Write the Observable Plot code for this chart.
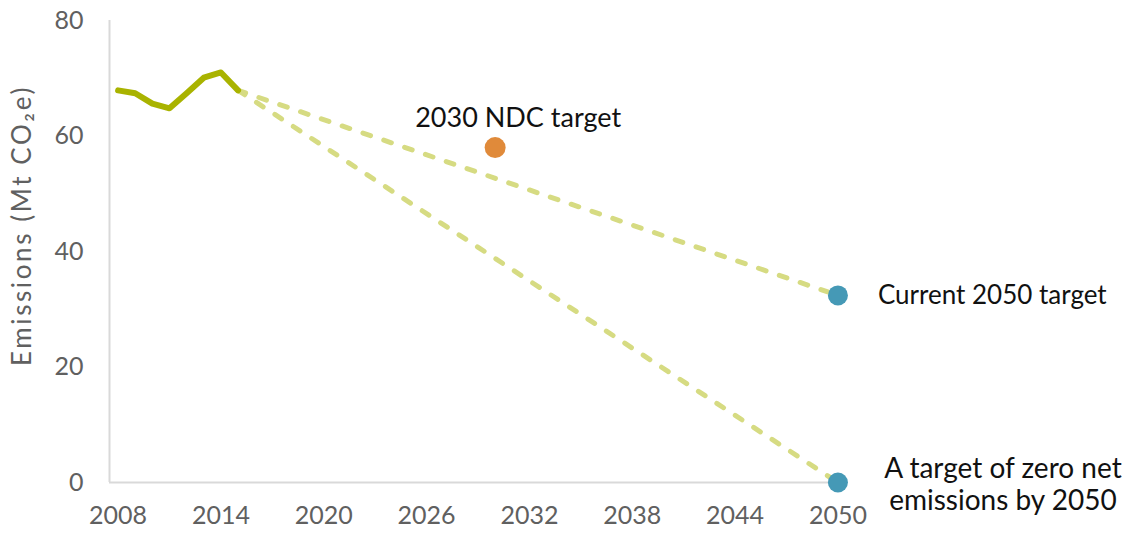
<!DOCTYPE html>
<html>
<head>
<meta charset="utf-8">
<script src="https://cdn.jsdelivr.net/npm/d3@7"></script>
<script src="https://cdn.jsdelivr.net/npm/@observablehq/plot@0.6"></script>
<style>
  html, body { margin: 0; padding: 0; background: #fff; }
  #chart svg { display: block; }
  .ylab text { letter-spacing: 2.6px; }
</style>
</head>
<body>
<div id="chart"></div>
<script>
// Historical emissions (Mt CO2e)
const histYears = [2008, 2009, 2010, 2011, 2012, 2013, 2014, 2015];
const histValues = [67.9, 67.4, 65.6, 64.8, 67.4, 70.1, 71.0, 67.9];

// Pathways from 2015 to 2050
const pathNames = ["Current 2050 target", "A target of zero net emissions by 2050"];
const pathStartYear = 2015;
const pathEndYear = 2050;
const pathStartValue = 67.9;
const pathEndValues = [32.4, 0];

// Targets
const ndcYear = 2030;
const ndcValue = 58.0;
const ndcLabel = "2030 NDC target";
const targetYears = [2050, 2050];
const targetValues = [32.4, 0];
const targetLabels = ["Current 2050 target", "A target of zero net\nemissions by 2050"];

// Axis ticks
const xTicks = [2008, 2014, 2020, 2026, 2032, 2038, 2044, 2050];
const yTicks = [0, 20, 40, 60, 80];
const yLabel = "Emissions (Mt CO₂e)";

const hist = histYears.map((y, i) => ({year: y, value: histValues[i]}));
const paths = pathNames.flatMap((name, i) => [
  {name, year: pathStartYear, value: pathStartValue},
  {name, year: pathEndYear, value: pathEndValues[i]}
]);
const targets = targetYears.map((y, i) => ({year: y, value: targetValues[i], label: targetLabels[i]}));

const font = "Lato, 'Open Sans', sans-serif";

const chart = Plot.plot({
  width: 1135,
  height: 533,
  marginLeft: 109,
  marginRight: 289,
  marginTop: 20,
  marginBottom: 51,
  style: {fontFamily: font, fontSize: "25px", background: "#fff", overflow: "visible"},
  x: {domain: [2007.5, 2050.5]},
  y: {domain: [0, 80]},
  marks: [
    Plot.ruleY([0], {stroke: "#d9d9d9", strokeWidth: 2}),
    Plot.ruleX([2007.5], {y1: 0, y2: 80, stroke: "#d9d9d9", strokeWidth: 2}),
    Plot.axisX({ticks: xTicks, tickSize: 0, tickPadding: 24, tickFormat: d => String(d), fill: "#606060", label: null}),
    Plot.axisY({ticks: yTicks, tickSize: 0, tickPadding: 26, fill: "#606060", label: null}),
    Plot.text([yLabel], {frameAnchor: "left", dx: -87, dy: -26, rotate: -90, fontSize: 26, fill: "#606060", textAnchor: "middle", className: "ylab"}),
    Plot.line(paths, {x: "year", y: "value", z: "name", stroke: "#d6db82", strokeWidth: 5, strokeDasharray: "8,14", strokeLinecap: "round"}),
    Plot.line(hist, {x: "year", y: "value", stroke: "#a9b300", strokeWidth: 6, strokeLinejoin: "round", strokeLinecap: "round"}),
    Plot.dot([{year: ndcYear, value: ndcValue}], {x: "year", y: "value", r: 10.5, fill: "#e08a3a"}),
    Plot.dot(targets, {x: "year", y: "value", r: 10, fill: "#4599b6"}),
    Plot.text([{year: ndcYear, value: ndcValue, label: ndcLabel}], {x: "year", y: "value", text: "label", dx: 23, dy: -29, fontSize: 27, fill: "#111", textAnchor: "middle"}),
    Plot.text(targets.slice(0, 1), {x: "year", y: "value", text: "label", dx: 40, fontSize: 26, fill: "#111", textAnchor: "start"}),
    Plot.text(targets.slice(1), {x: "year", y: "value", text: "label", dx: 165, dy: 1, lineHeight: 1.15, fontSize: 28, fill: "#111", textAnchor: "middle"})
  ]
});
document.getElementById("chart").appendChild(chart);
</script>
</body>
</html>
